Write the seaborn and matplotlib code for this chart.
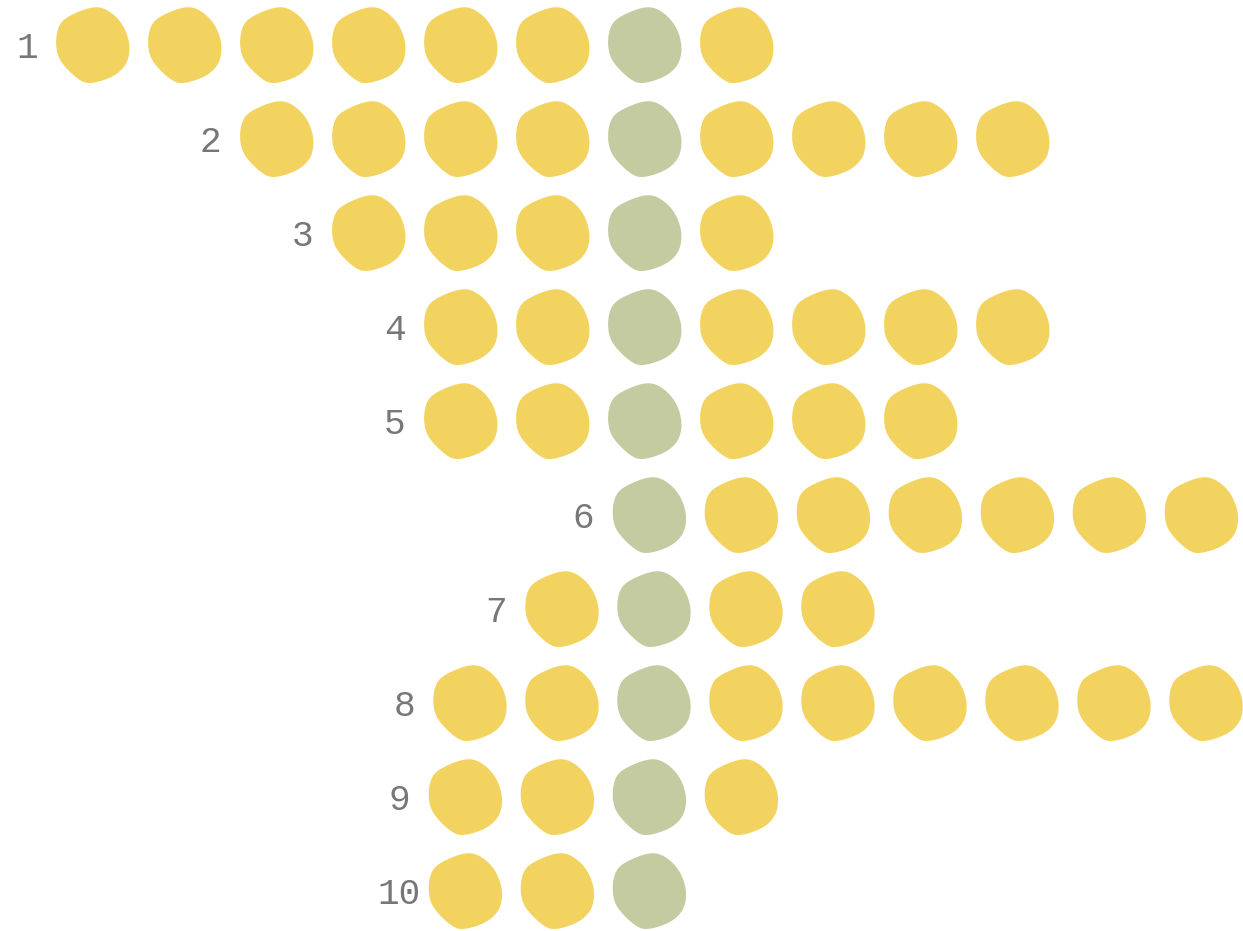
import numpy as np
import pandas as pd
import matplotlib
matplotlib.use("Agg")
import matplotlib.pyplot as plt
from matplotlib.path import Path
import seaborn as sns

# rows of the chart: how many blobs, and which one is the highlighted (green) one
rows = [1, 2, 3, 4, 5, 6, 7, 8, 9, 10]
counts = [8, 9, 5, 7, 6, 7, 4, 9, 4, 3]
highlight_idx = [6, 4, 3, 2, 2, 0, 1, 2, 2, 2]

# small horizontal nudge per row (layout only, in column units)
row_nudge = [0, 0, 0, 0, 0, 0.05, 0.1, 0.1, 0.05, 0.05]

YELLOW = "#F3D35F"
GREEN = "#C5CBA0"
LABEL = "#777777"

# build long table
recs = []
for r, n, g, nud in zip(rows, counts, highlight_idx, row_nudge):
    for k in range(n):
        recs.append({"row": r, "pos": k - g + nud,
                     "kind": "hit" if k == g else "other"})
df = pd.DataFrame(recs)

# hand-drawn looking blob outline: catmull-rom through traced points,
# then a circular moving average to round it off
ctrl = np.array([
    (-22.3, 30), (-4, 37.7), (6, 39), (19.3, 33.3), (29.3, 21.7), (36, 8.3),
    (37, -5), (35.3, -15), (31, -23.3), (22.7, -30), (12.7, -35),
    (-0.7, -38.3), (-7.3, -38.3), (-14, -35), (-24, -26.7), (-32.3, -16.7),
    (-36.7, -8.3), (-37.3, 5), (-35.7, 16.7), (-30.7, 25),
])
n = len(ctrl)
t = np.linspace(0, 1, 10, endpoint=False)[:, None]
seg = []
for i in range(n):
    p0, p1, p2, p3 = ctrl[i - 1], ctrl[i], ctrl[(i + 1) % n], ctrl[(i + 2) % n]
    seg.append(0.5 * (2 * p1 + (-p0 + p2) * t
                      + (2 * p0 - 5 * p1 + 4 * p2 - p3) * t ** 2
                      + (-p0 + 3 * p1 - 3 * p2 + p3) * t ** 3))
dense = np.vstack(seg)
w = 11
pad = np.vstack([dense[-w:], dense, dense[:w]])
kern = np.ones(2 * w + 1) / (2 * w + 1)
pts = np.column_stack([np.convolve(pad[:, j], kern, mode="same")[w:-w]
                       for j in range(2)])
verts = np.vstack([pts, pts[:1]])
codes = [Path.MOVETO] + [Path.LINETO] * (len(pts) - 1) + [Path.CLOSEPOLY]
blob = Path(verts, codes)
maxabs = np.abs(pts).max()
msize = (2 * maxabs * 0.72) ** 2

fig = plt.figure(figsize=(12.43, 9.31), dpi=100)
ax = fig.add_axes([0, 0, 1, 1])

sns.scatterplot(data=df, x="pos", y="row", hue="kind",
                palette={"other": YELLOW, "hit": GREEN},
                marker=blob, s=msize, linewidth=0, legend=False, ax=ax)

for r, g, nud in zip(rows, highlight_idx, row_nudge):
    ax.text(-g + nud - 0.72, r + 0.035, str(r), ha="center", va="center",
            fontsize=26, color=LABEL, family="Liberation Mono")

ax.set_xlim((0 - 645) / 92, (1243 - 645) / 92)
ax.set_ylim(1 + (931 - 45) / 94, 1 - 45 / 94)
ax.axis("off")

fig.savefig("out.png", dpi=100)
